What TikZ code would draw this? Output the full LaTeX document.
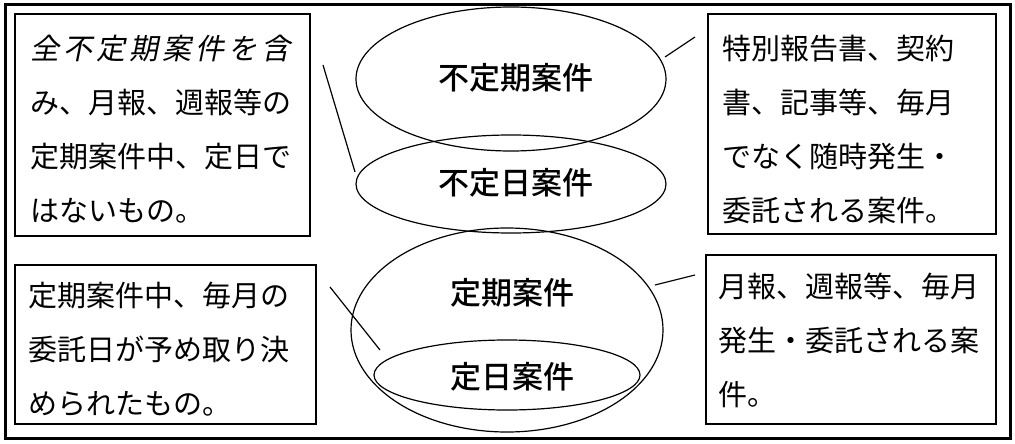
\documentclass[tikz,border=0pt]{standalone}
\usepackage{fontspec}
\setmainfont{Noto Sans CJK JP}
\newfontfamily\jpslant[FakeSlant=0.2,LetterSpace=14]{Noto Sans CJK JP}
\newfontfamily\jpmed{Noto Sans CJK JP Medium}
\begin{document}
\begin{tikzpicture}[x=1pt,y=-1pt,
    note/.style={draw,line width=1.8pt},
    notetext/.style={anchor=north west,align=left,inner sep=0pt,
      font=\fontsize{29}{54}\selectfont},
    set/.style={draw,line width=1.2pt},
    setlabel/.style={font=\fontsize{31}{34}\selectfont\jpmed},
    lead/.style={line width=1.2pt}]
  \useasboundingbox (0,0) rectangle (1015,444);
  \draw[line width=3pt] (5,5) rectangle (1010,438);
  % boxes
  \draw[note] (15,14) rectangle (310,236);
  \draw[note] (15,265) rectangle (316,424);
  \draw[note] (708,14) rectangle (996,234);
  \draw[note] (706,255) rectangle (996,424);
  \node[notetext] (tl) at (30,35) {{\jpslant 全不定期案件を含}\\み、月報、週報等の\\定期案件中、定日で\\はないもの。};
  \node[notetext] (bl) at (28,282) {定期案件中、毎月の\\委託日が予め取り決\\められたもの。};
  \node[notetext] (tr) at (722,35) {特別報告書、契約\\書、記事等、毎月\\でなく随時発生・\\委託される案件。};
  \node[notetext] (br) at (718,273) {月報、週報等、毎月\\発生・委託される案\\件。};
  % sets
  \draw[set] (511,79) ellipse [x radius=155,y radius=72];
  \draw[set] (511,184) ellipse [x radius=155,y radius=49];
  \draw[set] (507,330) ellipse [x radius=156,y radius=102];
  \draw[set] (507,375) ellipse [x radius=133,y radius=35];
  \node[setlabel] (irr) at (516,78) {不定期案件};
  \node[setlabel] (irrday) at (516,183) {不定日案件};
  \node[setlabel] (reg) at (512,293) {定期案件};
  \node[setlabel] (regday) at (512,377) {定日案件};
  % leaders
  \coordinate (a1) at (323,65); \coordinate (a2) at (355,172);
  \coordinate (b1) at (665,57); \coordinate (b2) at (695,37);
  \coordinate (c1) at (330,287); \coordinate (c2) at (380,350);
  \coordinate (d1) at (655,285); \coordinate (d2) at (695,275);
  \draw[lead] (a1) -- (a2);
  \draw[lead] (b1) -- (b2);
  \draw[lead] (c1) -- (c2);
  \draw[lead] (d1) -- (d2);
\end{tikzpicture}
\end{document}
